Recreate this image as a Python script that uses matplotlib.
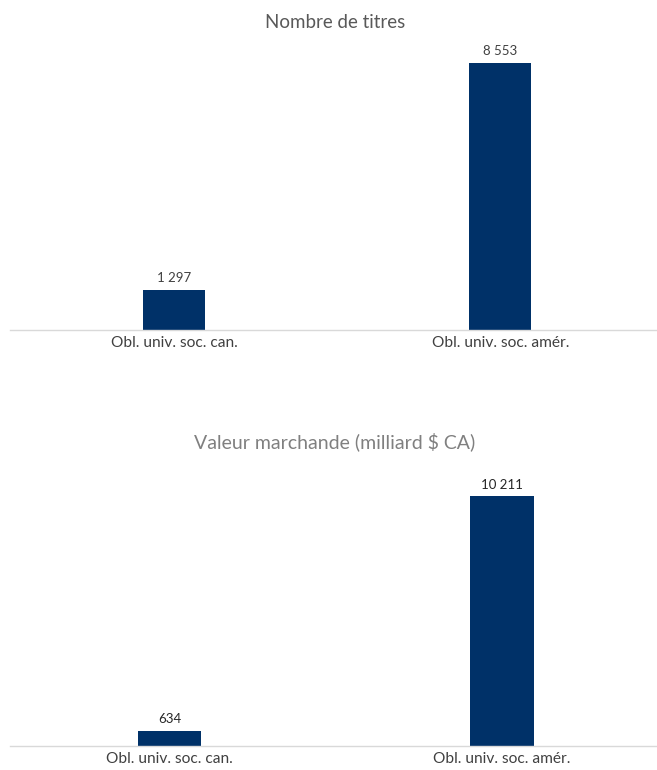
import matplotlib
matplotlib.use("Agg")
import matplotlib.pyplot as plt

categories = ["Obl. univ. soc. can.", "Obl. univ. soc. amér."]
nb_titres = [1297, 8553]
valeur_marchande = [634, 10211]
labels_titres = ["1 297", "8 553"]
labels_valeur = ["634", "10 211"]

BAR = "#003168"
plt.rcParams["font.family"] = ["Lato", "DejaVu Sans"]

fig = plt.figure(figsize=(6.57, 7.70), dpi=100)


def draw_panel(rect, values, labels, title, ylim, xlim, title_color, label_color, title_y, title_size, pad):
    ax = fig.add_axes(rect)
    x = range(len(categories))
    bars = ax.bar(x, values, width=0.19, color=BAR, zorder=2)
    for b, lab in zip(bars, labels):
        ax.text(b.get_x() + b.get_width() / 2, b.get_height() + ylim * 0.02, lab,
                ha="center", va="bottom", fontsize=9.5, color=label_color)
    ax.set_xlim(*xlim)
    ax.set_ylim(0, ylim)
    ax.set_xticks(list(x))
    ax.set_xticklabels(categories, fontsize=11.2, color="#404040")
    ax.tick_params(axis="x", length=0, pad=pad)
    ax.set_yticks([])
    for s in ["top", "left", "right"]:
        ax.spines[s].set_visible(False)
    ax.spines["bottom"].set_color("#d9d9d9")
    ax.spines["bottom"].set_linewidth(1.0)
    fig.text(0.51, title_y, title, ha="center", va="center", fontsize=title_size, color=title_color)
    return ax


draw_panel([10 / 657, 1 - 330 / 770, 647 / 657, 281 / 770], nb_titres, labels_titres,
           "Nombre de titres", 9000, (-0.504, 1.48), "#595959", "#404040", 1 - 22 / 770, 13.5, 4.5)
draw_panel([10 / 657, 1 - 746 / 770, 647 / 657, 264 / 770], valeur_marchande, labels_valeur,
           "Valeur marchande (milliard $ CA)", 10800, (-0.48, 1.466), "#808080", "#262626",
           1 - 442 / 770, 14, 4)

fig.savefig("out.png", dpi=100)
